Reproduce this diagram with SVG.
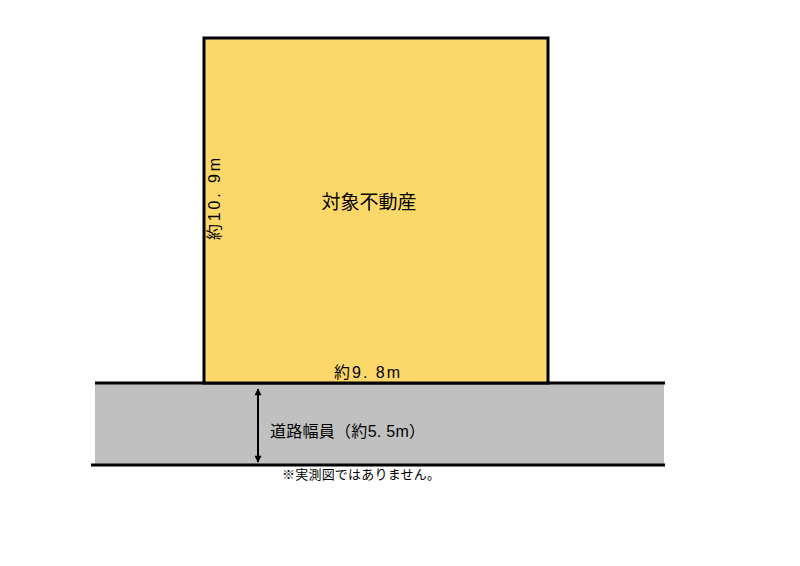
<svg xmlns="http://www.w3.org/2000/svg" width="800" height="566" viewBox="0 0 800 566">
<style>
text{font-family:"Liberation Sans","Noto Sans CJK JP",sans-serif;fill:#000}
.ln{stroke:#000;stroke-width:3}
</style>
<defs>
<marker id="ah" viewBox="0 0 10 10" refX="9" refY="5" markerWidth="9" markerHeight="7" orient="auto-start-reverse" markerUnits="userSpaceOnUse">
<path d="M0,0 L10,5 L0,10 z" fill="#000"/>
</marker>
</defs>
<rect width="800" height="566" fill="#fff"/>
<g id="road">
<rect x="95" y="383" width="569" height="82" fill="#c0c0c0"/>
<line class="ln" x1="95" y1="383" x2="665" y2="383"/>
<line class="ln" x1="91" y1="465" x2="665" y2="465"/>
<text x="270" y="437" font-size="16" textLength="155" lengthAdjust="spacing">道路幅員（約5. 5m）</text>
</g>
<g id="property">
<rect x="204" y="38" width="344" height="345" fill="#fcd76a" stroke="#000" stroke-width="3"/>
<text x="369" y="209" font-size="19" text-anchor="middle">対象不動産</text>
<text x="0" y="0" font-size="16" transform="translate(220,240) rotate(-90)" textLength="82" lengthAdjust="spacing">約10. 9m</text>
<text x="334" y="378" font-size="16" textLength="66" lengthAdjust="spacing">約9. 8m</text>
</g>
<g id="connectors">
<line x1="258" y1="389" x2="258" y2="462" stroke="#000" stroke-width="2" marker-start="url(#ah)" marker-end="url(#ah)"/>
</g>
<text x="282" y="479" font-size="13" textLength="158" lengthAdjust="spacing">※実測図ではありません。</text>
</svg>
